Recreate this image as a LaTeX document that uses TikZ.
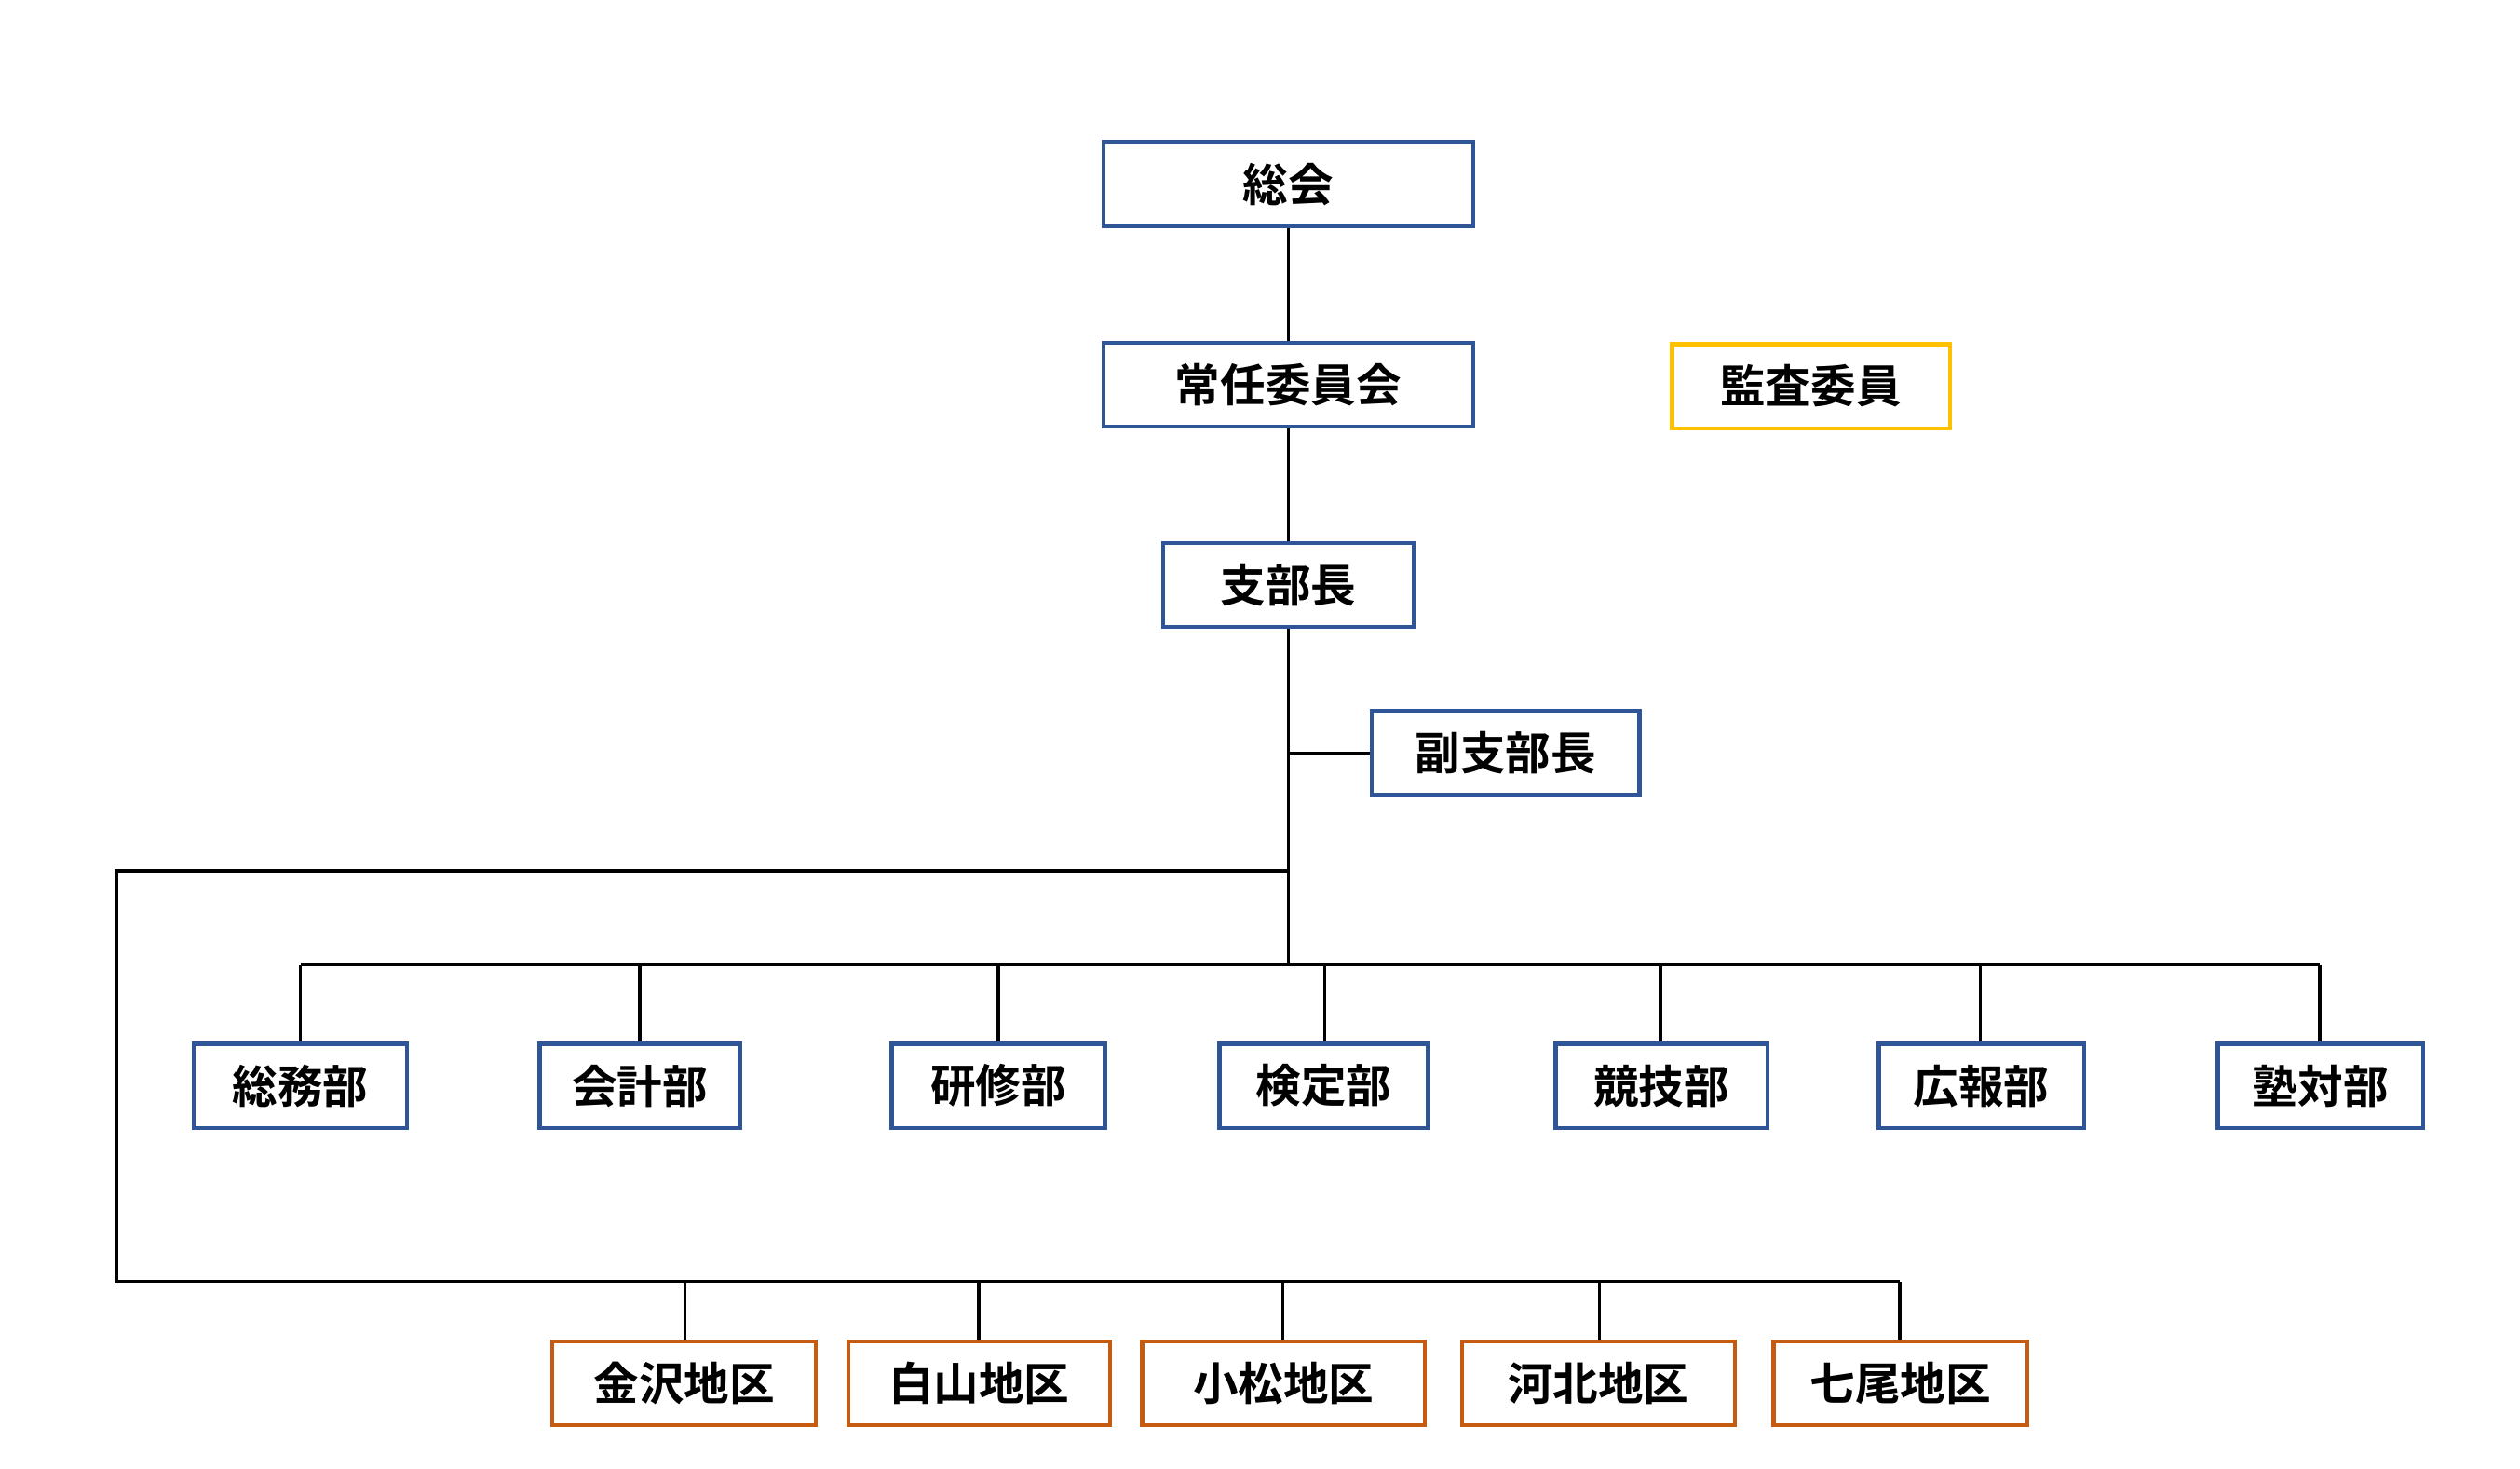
\documentclass[tikz,border=0pt]{standalone}
\usepackage{fontspec}
\newfontfamily\cjk{Noto Sans CJK JP}[BoldFont={* Bold}]
\begin{document}
\begin{tikzpicture}[x=1pt,y=-1pt,
  bx/.style={draw=#1,line width=2.5pt,fill=white,inner sep=0pt,font=\cjk\bfseries\fontsize{28}{32}\selectfont},
  ln/.style={line width=2pt,black}]
\definecolor{bl}{HTML}{2F5597}\definecolor{og}{HTML}{C55A11}\definecolor{yl}{HTML}{FFC000}
\useasboundingbox (0,0) rectangle (1560,909);
\newcommand{\B}[6]{\node[bx=#6,minimum width=#3-#2,minimum height=52] (#1) at ({(#2+#3)/2},#4) {#5};}
\B{a}{683}{912}{114}{総会}{bl}
\B{b}{683}{912}{238}{常任委員会}{bl}
\B{k}{1035}{1207}{239}{監査委員}{yl}
\B{c}{720}{875}{362}{支部長}{bl}
\B{d}{849}{1015}{466}{副支部長}{bl}
\B{s1}{120}{252}{672}{総務部}{bl}
\B{s2}{334}{458}{672}{会計部}{bl}
\B{s3}{552}{684}{672}{研修部}{bl}
\B{s4}{755}{884}{672}{検定部}{bl}
\B{s5}{963}{1094}{672}{競技部}{bl}
\B{s6}{1163}{1290}{672}{広報部}{bl}
\B{s7}{1373}{1500}{672}{塾対部}{bl}
\B{t1}{342}{505}{856}{金沢地区}{og}
\B{t2}{525}{687}{856}{白山地区}{og}
\B{t3}{707}{882}{856}{小松地区}{og}
\B{t4}{905}{1074}{856}{河北地区}{og}
\B{t5}{1098}{1255}{856}{七尾地区}{og}
\coordinate (j1) at (797.5,466);
\coordinate (j2) at (797.5,539);
\coordinate (j3) at (797.5,597);
\coordinate (L) at (72,539);
\coordinate (LB) at (72,793);
\coordinate (R) at (1176,793);
\draw[ln] (a) -- (b);
\draw[ln] (b) -- (c);
\draw[ln] (c) -- (j3);
\draw[ln] (j1) -- (d);
\draw[ln] (j2) -- (L) -- (LB) -- (R);
\draw[ln] (186,597) -- (1436,597);
\foreach \n/\x in {s1/186,s2/396,s3/618,s4/820,s5/1028,s6/1226,s7/1436}
  \draw[ln] (\x,597) -- (\n.north -| \x,0);
\foreach \n/\x in {t1/424,t2/606,t3/794,t4/990,t5/1176}
  \draw[ln] (\x,793) -- (\n.north -| \x,0);
\end{tikzpicture}
\end{document}
